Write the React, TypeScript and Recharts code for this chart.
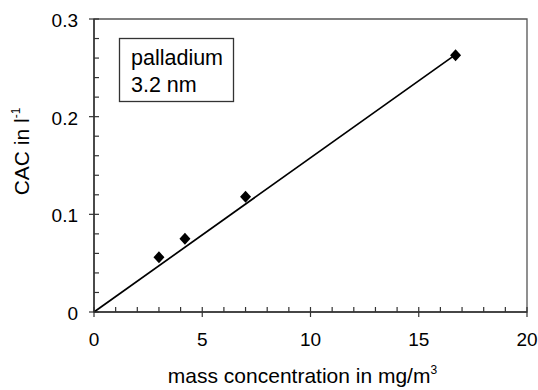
import { ScatterChart, Scatter, XAxis, YAxis, ReferenceArea } from "recharts";

// measured points
const MASS_CONC = [3.0, 4.2, 7.0, 16.7];
const CAC = [0.056, 0.075, 0.118, 0.263];

// linear fit through origin
const FIT_X = [0, 16.6];
const FIT_Y = [0, 0.262];

const X_TICKS = [0, 1, 2, 3, 4, 5, 6, 7, 8, 9, 10, 11, 12, 13, 14, 15, 16, 17, 18, 19, 20];
const X_LABELS = [0, 5, 10, 15, 20];
const Y_TICKS = [
  0, 0.02, 0.04, 0.06, 0.08, 0.1, 0.12, 0.14, 0.16, 0.18, 0.2, 0.22, 0.24, 0.26, 0.28, 0.3,
];
const Y_LABELS = [0, 0.1, 0.2, 0.3];

const BOX_LINES = ["palladium", "3.2 nm"];

const FONT = "'Liberation Sans', Arial, sans-serif";
const AXIS_COLOR = "#333";

const points = MASS_CONC.map((x, i) => ({ x, y: CAC[i] }));
const fit = FIT_X.map((x, i) => ({ x, y: FIT_Y[i] }));

const Diamond = ({ cx, cy }: { cx?: number; cy?: number }) => {
  if (cx == null || cy == null) return null;
  return (
    <polygon
      points={`${cx},${cy - 6} ${cx + 5.5},${cy} ${cx},${cy + 6} ${cx - 5.5},${cy}`}
      fill="#000"
    />
  );
};

const XTick = ({ x, y, payload }: any) => {
  const major = X_LABELS.includes(payload.value);
  return (
    <g>
      <line x1={x} x2={x} y1={major ? y + 5 : y} y2={y - 5} stroke={AXIS_COLOR} strokeWidth={1.2} />
      {major && (
        <text x={x} y={y + 34} textAnchor="middle" fontSize={19} fontFamily={FONT} fill="#000">
          {payload.value}
        </text>
      )}
    </g>
  );
};

const YTick = ({ x, y, payload }: any) => {
  const major = Y_LABELS.includes(payload.value);
  return (
    <g>
      <line x1={major ? x - 5 : x} x2={x + 5} y1={y} y2={y} stroke={AXIS_COLOR} strokeWidth={1.2} />
      {major && (
        <text x={x - 16} y={y + 8} textAnchor="end" fontSize={19} fontFamily={FONT} fill="#000">
          {payload.value}
        </text>
      )}
    </g>
  );
};

const XTitle = ({ viewBox }: any) => {
  const cx = viewBox.x + viewBox.width / 2 - 8;
  const y = viewBox.y + 71;
  return (
    <text x={cx} y={y} textAnchor="middle" fontSize={21} fontFamily={FONT} fill="#000">
      mass concentration in mg/m
      <tspan dy={-9} fontSize={12}>3</tspan>
    </text>
  );
};

const YTitle = ({ viewBox }: any) => {
  const cx = 29;
  const cy = viewBox.y + viewBox.height / 2 - 14;
  return (
    <text
      x={cx}
      y={cy}
      transform={`rotate(-90, ${cx}, ${cy})`}
      textAnchor="middle"
      fontSize={21}
      fontFamily={FONT}
      fill="#000"
    >
      CAC in l
      <tspan dy={-9} fontSize={12}>-1</tspan>
    </text>
  );
};

export default function App() {
  return (
    <div style={{ position: "absolute", left: 0, top: 0, width: 538, height: 390, background: "#fff" }}>
      <ScatterChart width={538} height={390} margin={{ top: 19, right: 11, bottom: 0, left: 0 }}>
        <XAxis
          type="number"
          dataKey="x"
          domain={[0, 20]}
          ticks={X_TICKS}
          interval={0}
          tickSize={0}
          tickMargin={0}
          tickLine={false}
          tick={<XTick />}
          height={78}
          axisLine={{ stroke: AXIS_COLOR, strokeWidth: 1.5 }}
          label={<XTitle />}
        />
        <YAxis
          type="number"
          dataKey="y"
          domain={[0, 0.3]}
          ticks={Y_TICKS}
          interval={0}
          tickSize={0}
          tickMargin={0}
          tickLine={false}
          tick={<YTick />}
          width={94}
          axisLine={{ stroke: AXIS_COLOR, strokeWidth: 1.5 }}
          label={<YTitle />}
        />
        <ReferenceArea x1={0} x2={20} y1={0} y2={0.3} fill="none" stroke="#555" strokeWidth={1.3} />
        <Scatter
          data={fit}
          fill="#000"
          stroke="#000"
          line={{ stroke: "#000", strokeWidth: 1.7 }}
          shape={() => <g />}
          isAnimationActive={false}
        />
        <Scatter data={points} fill="#000" shape={<Diamond />} isAnimationActive={false} />
      </ScatterChart>

      {/* annotation box */}
      <svg
        width={538}
        height={390}
        style={{ position: "absolute", left: 0, top: 0, pointerEvents: "none" }}
      >
        <rect x={119.5} y={38.5} width={114} height={63} fill="#fff" stroke="#333" strokeWidth={1.3} />
        {BOX_LINES.map((t, i) => (
          <text key={t} x={131} y={65 + i * 27} fontSize={21.5} fontFamily={FONT} fill="#000">
            {t}
          </text>
        ))}
      </svg>
    </div>
  );
}
